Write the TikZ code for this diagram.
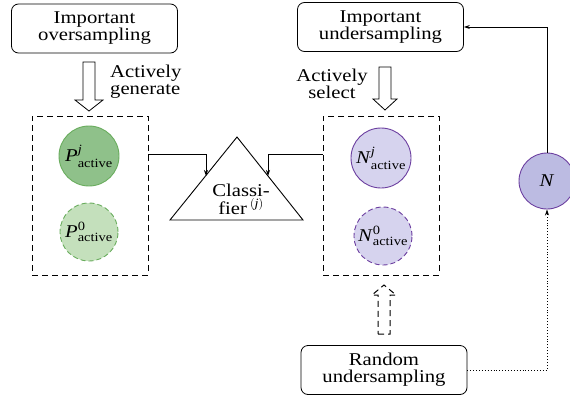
\documentclass[tikz,border=0pt]{standalone}
\usepackage{fontspec}
\usepackage{amsmath}
\setmainfont{Liberation Serif}[FakeStretch=1.15]
\usetikzlibrary{shapes.geometric,arrows.meta}
\definecolor{gfill}{HTML}{8FC18A}
\definecolor{gline}{HTML}{6AAD5E}
\definecolor{glight}{HTML}{C4E0BC}
\definecolor{pfill}{HTML}{D6D3EE}
\definecolor{pline}{HTML}{6C3FA0}
\definecolor{pdark}{HTML}{BCBBE2}
\newcommand\actlab[2]{$\text{\textit{#1}}^{\text{#2}}_{\text{active}}$}
\begin{document}
\begin{tikzpicture}[x=1pt,y=-1pt,
  font=\fontsize{18}{17}\selectfont,
  txtbox/.style={draw,rounded corners=7pt,line width=0.8pt,minimum width=166pt,minimum height=49pt,align=center,inner sep=0pt},
  dbox/.style={draw,dashed,dash pattern=on 6pt off 4pt,line width=0.9pt,minimum width=116pt,minimum height=159pt,inner sep=0pt},
  gcirc/.style={circle,draw=gline,fill=gfill,line width=0.9pt,minimum size=60pt,inner sep=0pt},
  gcircd/.style={circle,draw=gline,fill=glight,line width=0.9pt,dashed,dash pattern=on 5pt off 3pt,minimum size=58pt,inner sep=0pt},
  pcirc/.style={circle,draw=pline,fill=pfill,line width=0.9pt,minimum size=60pt,inner sep=0pt},
  pcircd/.style={circle,draw=pline,fill=pfill,line width=0.9pt,dashed,dash pattern=on 5pt off 3pt,minimum size=58pt,inner sep=0pt},
  conn/.style={line width=0.8pt,-{Stealth[length=6pt,width=4pt]}},
  hollow/.style={draw,line width=0.8pt,line join=miter},
]
\useasboundingbox (0,0) rectangle (570,399);

\node[txtbox] (ovs) at (94.5,28.5) {Important\\oversampling};
\node[txtbox] (uds) at (380.5,27) {Important\\undersampling};
\node[txtbox] (rnd) at (384,370) {Random\\undersampling};

% hollow arrows
\draw[hollow] (83,62) -- (95,62) -- (95,100) -- (103,100) -- (89,111) -- (75,100) -- (83,100) -- cycle;
\draw[hollow] (379,67) -- (391,67) -- (391,99) -- (397,99) -- (385,110) -- (373,99) -- (379,99) -- cycle;
\draw[hollow,line width=1pt,dashed,dash pattern=on 6pt off 4pt] (378,334) -- (390,334) -- (390,295) -- (396,295) -- (384,285) -- (372,295) -- (378,295) -- cycle;

\node[anchor=west,align=left,inner sep=0pt] (tg) at (110,82) {Actively\\generate};
\node[align=center,inner sep=0pt] (ts) at (332,84) {Actively\\select};

\node[dbox] (lb) at (90,195.5) {};
\node[dbox] (rb) at (381,195.5) {};

\node[gcirc] (pj) at (89,156) {\actlab{P}{\textit{j}}};
\node[gcircd] (p0) at (89,232) {\actlab{P}{0}};
\node[pcirc] (nj) at (381,158) {\actlab{N}{\textit{j}}};
\node[pcircd] (n0) at (383,236) {\actlab{N}{0}};
\node[circle,draw=pline,fill=pdark,line width=0.9pt,minimum size=56pt,inner sep=0pt] (nn) at (547,181) {\textit{N}};

\coordinate (t1) at (237,137);
\coordinate (t2) at (170,220);
\coordinate (t3) at (303,220);
\draw[line width=0.9pt] (t1) -- (t2) -- (t3) -- cycle;
\node[align=center,inner sep=0pt,font=\fontsize{18}{18}\selectfont] (cls) at (241,199) {Classi-\\fier\,$^{(\text{\textit{j}})}$};

\coordinate (cl) at (206,176);
\coordinate (cr) at (268,176);
\draw[conn] (lb.east |- 0,154) -| (cl);
\draw[conn] (rb.west |- 0,154) -| (cr);

\draw[conn] (nn.north) |- (uds.east);
\draw[line width=0.9pt,dotted,-{Stealth[length=6pt,width=4pt]}] (rnd.east) -| (nn.south);
\end{tikzpicture}
\end{document}
